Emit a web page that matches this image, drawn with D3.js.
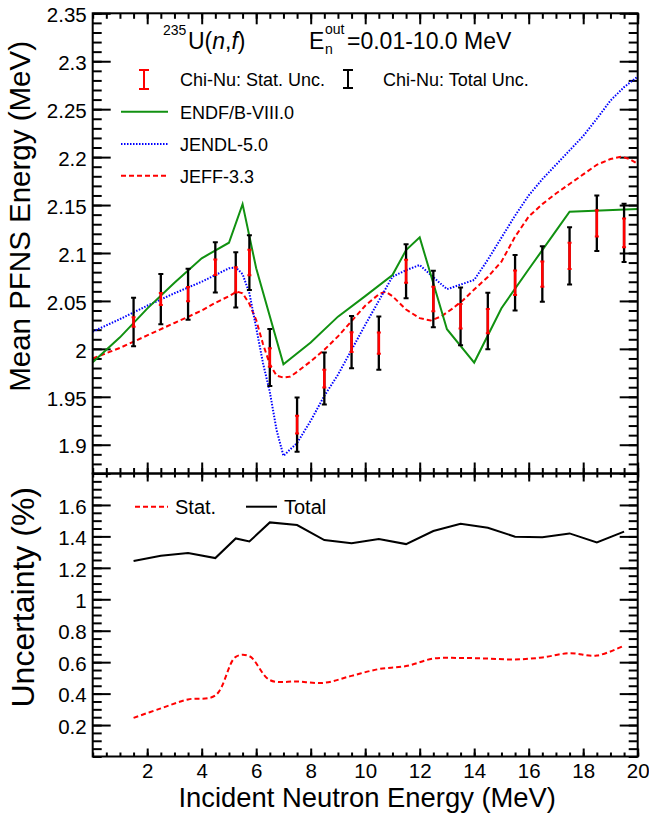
<!DOCTYPE html>
<html>
<head>
<meta charset="utf-8">
<script src="https://cdn.jsdelivr.net/npm/d3@7"></script>
<style>
  body { margin: 0; background: #fff; }
  svg { display: block; font-family: "Liberation Sans", Arial, Helvetica, sans-serif; }
</style>
</head>
<body>
<script>
// Chi-Nu data points (bin centres, MeV)
var energy  = [1.5, 2.5, 3.5, 4.5, 5.25, 5.75, 6.5, 7.5, 8.5, 9.5, 10.5, 11.5, 12.5, 13.5, 14.5, 15.5, 16.5, 17.5, 18.5, 19.5];
var meanE   = [2.028, 2.052, 2.057, 2.085, 2.072, 2.090, 1.991, 1.921, 1.969, 2.007, 2.006, 2.081, 2.052, 2.034, 2.029, 2.069, 2.078, 2.097, 2.131, 2.121];
// relative uncertainties (%)
var statPct = [0.246, 0.306, 0.363, 0.388, 0.634, 0.638, 0.486, 0.477, 0.469, 0.513, 0.556, 0.575, 0.623, 0.627, 0.623, 0.617, 0.630, 0.657, 0.642, 0.706];
var totPct  = [1.243, 1.277, 1.294, 1.262, 1.387, 1.368, 1.489, 1.472, 1.377, 1.356, 1.383, 1.351, 1.434, 1.480, 1.455, 1.398, 1.394, 1.419, 1.362, 1.430];

// evaluations
var endfE = [0, 1, 2, 3, 4, 5, 5.5, 6, 7, 8, 9, 10, 11, 11.5, 12, 13, 14, 15, 16, 17, 17.5, 20];
var endfV = [1.986, 2.012, 2.042, 2.069, 2.0945, 2.1107, 2.151, 2.084, 1.984, 2.0066, 2.0336, 2.055, 2.077, 2.103, 2.1163, 2.0205, 1.9857, 2.0424, 2.083, 2.123, 2.143, 2.1458];

var jendlE = [0, 1, 2, 3, 4, 4.5, 5, 5.25, 5.5, 5.75, 6, 6.25, 6.5, 6.75, 7, 7.5, 8, 8.5, 9, 9.5, 10, 11, 11.5, 12, 13, 14, 14.5, 15, 15.5, 16, 16.5, 17, 17.5, 18, 18.5, 19, 19.5, 20];
var jendlV = [2.018, 2.031, 2.045, 2.058, 2.070, 2.077, 2.084, 2.085, 2.078, 2.058, 2.022, 1.985, 1.955, 1.915, 1.8885, 1.9018, 1.925, 1.951, 1.973, 1.999, 2.025, 2.0753, 2.082, 2.0875, 2.0622, 2.0719, 2.093, 2.116, 2.139, 2.160, 2.177, 2.192, 2.207, 2.222, 2.240, 2.259, 2.273, 2.284];

var jeffE = [0, 1, 2, 3, 4, 4.5, 5, 5.3, 5.5, 5.75, 6, 6.25, 6.5, 6.75, 7, 7.25, 7.5, 8, 8.5, 9, 9.5, 10, 10.5, 10.75, 11, 11.5, 12, 12.4, 12.8, 13.2, 13.6, 14, 14.5, 15, 15.5, 16, 16.5, 17, 17.5, 18, 18.5, 19, 19.4, 19.7, 20];
var jeffV = [1.990, 2.001, 2.014, 2.027, 2.040, 2.048, 2.055, 2.0597, 2.058, 2.047, 2.030, 2.005, 1.984, 1.972, 1.970, 1.971, 1.976, 1.987, 1.999, 2.013, 2.029, 2.045, 2.057, 2.0597, 2.055, 2.041, 2.032, 2.0295, 2.034, 2.042, 2.051, 2.062, 2.075, 2.091, 2.117, 2.138, 2.151, 2.162, 2.172, 2.182, 2.192, 2.198, 2.2005, 2.198, 2.193];

// tick values
var xMajor = [2, 4, 6, 8, 10, 12, 14, 16, 18, 20];
var xMinor = d3.range(0, 20.01, 0.5);
var yTopMajor = [1.9, 1.95, 2, 2.05, 2.1, 2.15, 2.2, 2.25, 2.3, 2.35];
var yTopMinor = d3.range(1.88, 2.351, 0.01);
var yBotMajor = [0.2, 0.4, 0.6, 0.8, 1, 1.2, 1.4, 1.6];
var yBotMinor = d3.range(0, 1.801, 0.05);

var W = 649, H = 818;
var left = 92.7, right = 637.7;
var topY0 = 13.3, topY1 = 473.5, botY1 = 756.5;
var FONT = '"Liberation Sans", Arial, Helvetica, sans-serif';

var svg = d3.select('body').append('svg').attr('width', W).attr('height', H);
svg.append('rect').attr('width', W).attr('height', H).attr('fill', '#fff');

var x = d3.scaleLinear().domain([0, 20]).range([left, right]);
var yTop = d3.scaleLinear().domain([1.87, 2.35]).range([topY1, topY0]);
var yBot = d3.scaleLinear().domain([0, 1.8]).range([botY1, topY1]);

function fmt(d){ return String(+d.toFixed(2)); }

function styleAxis(g, size){
	g.select('.domain').remove();
	g.selectAll('line').attr('stroke', '#000').attr('stroke-width', 2);
	g.selectAll('text').attr('font-size', size).attr('font-family', FONT).attr('fill', '#000');
}

// y axes for one panel
function drawYAxes(scale, major, minor, labels){
	var g = svg.append('g');
	g.append('g').attr('transform', 'translate(' + left + ',0)')
		.call(d3.axisLeft(scale).tickValues(major).tickSizeInner(-18).tickSizeOuter(0).tickPadding(6)
			.tickFormat(function(d){ return labels.indexOf(d) >= 0 ? fmt(d) : ''; }))
		.call(styleAxis, 20.5)
		.selectAll('text').attr('dy', '0.4em');
	g.append('g').attr('transform', 'translate(' + left + ',0)')
		.call(d3.axisLeft(scale).tickValues(minor).tickSize(-9).tickFormat(''))
		.call(styleAxis, 10);
	g.append('g').attr('transform', 'translate(' + right + ',0)')
		.call(d3.axisRight(scale).tickValues(major).tickSize(-18).tickFormat(''))
		.call(styleAxis, 10);
	g.append('g').attr('transform', 'translate(' + right + ',0)')
		.call(d3.axisRight(scale).tickValues(minor).tickSize(-9).tickFormat(''))
		.call(styleAxis, 10);
}

// x axes (no labels except the very bottom)
function drawXAxis(yPos, orient, major, minor, withLabels){
	var g = svg.append('g').attr('transform', 'translate(0,' + yPos + ')');
	var mk = orient == 'top' ? d3.axisTop : d3.axisBottom;
	var a = mk(x).tickValues(xMajor).tickSizeInner(-major).tickSizeOuter(0).tickPadding(7);
	if(!withLabels) a.tickFormat('');
	g.append('g').call(a).call(styleAxis, 20.5);
	g.append('g').call(mk(x).tickValues(xMinor).tickSize(-minor).tickFormat('')).call(styleAxis, 10);
}

drawYAxes(yTop, yTopMajor.concat([]), yTopMinor, yTopMajor);
drawYAxes(yBot, yBotMajor.concat([1.8]), yBotMinor, yBotMajor);
drawXAxis(topY0, 'top', 11, 5.5, false);
drawXAxis(topY1, 'bottom', 11, 5.5, false);
drawXAxis(topY1, 'top', 8, 4, false);
drawXAxis(botY1, 'bottom', 8, 4, true);

// clip for top panel curves
svg.append('clipPath').attr('id', 'clipTop').append('rect')
	.attr('x', left).attr('y', topY0).attr('width', right - left).attr('height', topY1 - topY0);

var topG = svg.append('g').attr('clip-path', 'url(#clipTop)');

function curveLine(xs, ys, yScale, curve){
	return d3.line().x(function(d, i){ return x(xs[i]); }).y(function(d){ return yScale(d); }).curve(curve || d3.curveLinear)(ys);
}

topG.append('path').attr('d', curveLine(jeffE, jeffV, yTop))
	.attr('fill', 'none').attr('stroke', '#ff0000').attr('stroke-width', 2).attr('stroke-dasharray', '5,3');
topG.append('path').attr('d', curveLine(jendlE, jendlV, yTop))
	.attr('fill', 'none').attr('stroke', '#0000ff').attr('stroke-width', 2).attr('stroke-dasharray', '1.5,1.5');
topG.append('path').attr('d', curveLine(endfE, endfV, yTop))
	.attr('fill', 'none').attr('stroke', '#119111').attr('stroke-width', 2);

// error bars: total (black) then stat (red)
function errBars(pct, color, width, cap){
	var g = topG.append('g');
	energy.forEach(function(e, i){
		var err = meanE[i] * pct[i] / 100;
		var cx = x(e), y0 = yTop(meanE[i] - err), y1 = yTop(meanE[i] + err);
		g.append('line').attr('x1', cx).attr('x2', cx).attr('y1', y0).attr('y2', y1)
			.attr('stroke', color).attr('stroke-width', width);
		[y0, y1].forEach(function(yy){
			g.append('line').attr('x1', cx - cap).attr('x2', cx + cap).attr('y1', yy).attr('y2', yy)
				.attr('stroke', color).attr('stroke-width', 2);
		});
	});
}
errBars(totPct, '#000', 2.3, 2.5);
errBars(statPct, '#ff0000', 2.6, 2);

// bottom panel lines
svg.append('path').attr('d', curveLine(energy, statPct, yBot, d3.curveCatmullRom))
	.attr('fill', 'none').attr('stroke', '#ff0000').attr('stroke-width', 2).attr('stroke-dasharray', '5,3');
svg.append('path').attr('d', curveLine(energy, totPct, yBot))
	.attr('fill', 'none').attr('stroke', '#000').attr('stroke-width', 2);

// frames
svg.append('rect').attr('x', left).attr('y', topY0).attr('width', right - left).attr('height', topY1 - topY0)
	.attr('fill', 'none').attr('stroke', '#000').attr('stroke-width', 2);
svg.append('rect').attr('x', left).attr('y', topY1).attr('width', right - left).attr('height', botY1 - topY1)
	.attr('fill', 'none').attr('stroke', '#000').attr('stroke-width', 2);

// title text
var t1 = svg.append('g').attr('font-family', FONT).attr('fill', '#000');
t1.append('text').attr('x', 163).attr('y', 35).attr('font-size', 14).text('235');
var tu = t1.append('text').attr('x', 188).attr('y', 49).attr('font-size', 23);
tu.append('tspan').text('U(');
tu.append('tspan').attr('font-style', 'italic').text('n');
tu.append('tspan').text(',');
tu.append('tspan').attr('font-style', 'italic').text('f');
tu.append('tspan').text(')');
t1.append('text').attr('x', 309).attr('y', 49).attr('font-size', 23).text('E');
t1.append('text').attr('x', 325).attr('y', 34).attr('font-size', 14).text('out');
t1.append('text').attr('x', 325).attr('y', 54).attr('font-size', 14).text('n');
t1.append('text').attr('x', 347).attr('y', 49).attr('font-size', 23).text('=0.01-10.0 MeV');

// legend top
var lg = svg.append('g').attr('font-family', FONT).attr('font-size', 18).attr('fill', '#000');
function iBeam(cx, y0, y1, color){
	lg.append('line').attr('x1', cx).attr('x2', cx).attr('y1', y0).attr('y2', y1).attr('stroke', color).attr('stroke-width', 2);
	[y0, y1].forEach(function(yy){
		lg.append('line').attr('x1', cx - 5).attr('x2', cx + 5).attr('y1', yy).attr('y2', yy).attr('stroke', color).attr('stroke-width', 2);
	});
}
iBeam(144, 70, 89, '#ff0000');
lg.append('text').attr('x', 180).attr('y', 86).text('Chi-Nu: Stat. Unc.');
iBeam(348, 70, 88, '#000');
lg.append('text').attr('x', 383).attr('y', 86).text('Chi-Nu: Total Unc.');

var legendLines = [
	{name: 'ENDF/B-VIII.0', color: '#119111', dash: null, y: 111.7},
	{name: 'JENDL-5.0', color: '#0000ff', dash: '1.5,1.5', y: 144},
	{name: 'JEFF-3.3', color: '#ff0000', dash: '5,3', y: 175.7}
];
legendLines.forEach(function(d){
	lg.append('line').attr('x1', 121).attr('x2', 168).attr('y1', d.y).attr('y2', d.y)
		.attr('stroke', d.color).attr('stroke-width', 2).attr('stroke-dasharray', d.dash);
	lg.append('text').attr('x', 180).attr('y', d.y + 7.3).text(d.name);
});

// legend bottom
var lb = svg.append('g').attr('font-family', FONT).attr('font-size', 20).attr('fill', '#000');
lb.append('line').attr('x1', 135).attr('x2', 168).attr('y1', 506.7).attr('y2', 506.7)
	.attr('stroke', '#ff0000').attr('stroke-width', 2).attr('stroke-dasharray', '5,3');
lb.append('text').attr('x', 175).attr('y', 514).text('Stat.');
lb.append('line').attr('x1', 246).attr('x2', 277).attr('y1', 506.7).attr('y2', 506.7)
	.attr('stroke', '#000').attr('stroke-width', 2);
lb.append('text').attr('x', 284).attr('y', 514).text('Total');

// axis titles
var at = svg.append('g').attr('font-family', FONT).attr('fill', '#000');
at.append('text').attr('transform', 'translate(30,41) rotate(-90)').attr('text-anchor', 'end')
	.attr('font-size', 29.5).text('Mean PFNS Energy (MeV)');
at.append('text').attr('transform', 'translate(34,487) rotate(-90)').attr('text-anchor', 'end')
	.attr('font-size', 32).text('Uncertainty (%)');
at.append('text').attr('x', 556).attr('y', 807).attr('text-anchor', 'end')
	.attr('font-size', 27.4).text('Incident Neutron Energy (MeV)');
</script>
</body>
</html>
